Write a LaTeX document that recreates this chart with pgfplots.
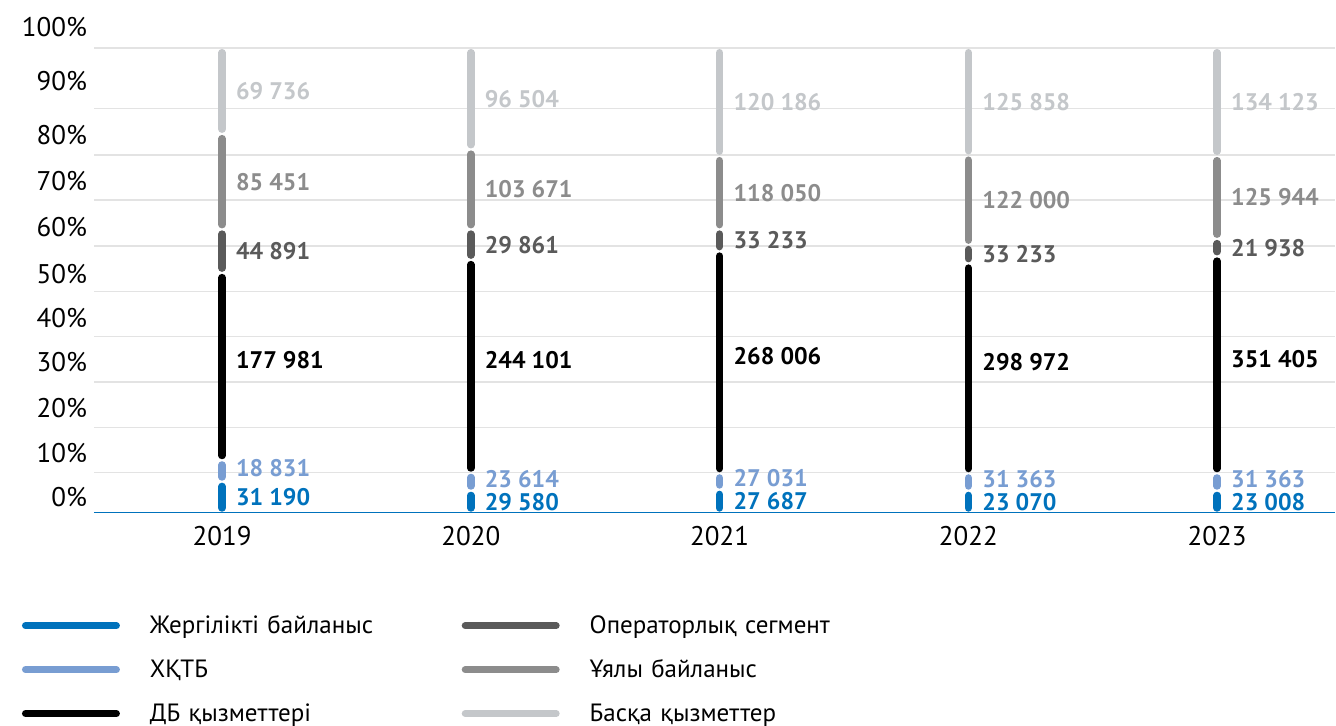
\documentclass[border=0pt]{standalone}
\usepackage{fontspec}
\setmainfont{PT Sans}
\usepackage{pgfplots}
\usepackage{pgfplotstable}
\pgfplotsset{compat=1.18}
\definecolor{cBlue}{RGB}{0,114,188}
\definecolor{cLBlue}{RGB}{120,157,210}
\definecolor{cBlack}{RGB}{0,0,0}
\definecolor{cOp}{RGB}{90,90,90}
\definecolor{cUa}{RGB}{140,140,140}
\definecolor{cBq}{RGB}{196,199,202}

% x = year index, lo/hi = segment bounds (share of bar, %), label = value
\pgfplotstableread[col sep=comma]{
x,lo,hi,label
0,0,6.67,31 190
1,0,4.73,29 580
2,0,4.95,27 687
3,0,4.73,23 070
4,0,4.73,23 008
}\tBlue
\pgfplotstableread[col sep=comma]{
x,lo,hi,label
0,6.67,11.29,18 831
1,4.73,8.60,23 614
2,4.95,8.49,27 031
3,4.73,8.49,31 363
4,4.73,8.49,31 363
}\tLBlue
\pgfplotstableread[col sep=comma]{
x,lo,hi,label
0,11.29,51.61,177 981
1,8.60,54.41,244 101
2,8.49,56.24,268 006
3,8.49,53.66,298 972
4,8.49,55.16,351 405
}\tBlack
\pgfplotstableread[col sep=comma]{
x,lo,hi,label
0,51.61,60.97,44 891
1,54.41,60.97,29 861
2,56.24,60.97,33 233
3,53.66,57.63,33 233
4,55.16,58.92,21 938
}\tOp
\pgfplotstableread[col sep=comma]{
x,lo,hi,label
0,60.97,81.51,85 451
1,60.97,78.17,103 671
2,60.97,76.77,118 050
3,57.63,76.88,122 000
4,58.92,76.77,125 944
}\tUa
\pgfplotstableread[col sep=comma]{
x,lo,hi,label
0,81.51,100,69 736
1,78.17,100,96 504
2,76.77,100,120 186
3,76.88,100,125 858
4,76.77,100,134 123
}\tBq

\pgfplotsset{
  seg/.style 2 args={draw=none, mark=none,
    error bars/y dir=both, error bars/y explicit, error bars/error mark=none,
    error bars/error bar style={draw=#1, line width=3.75pt, line cap=round, solid},
    nodes near coords, point meta=explicit symbolic,
    every node near coord/.append style={anchor=west, text=#1,
      font=\fontsize{12}{14}\selectfont\bfseries, xshift=3.5pt, #2},
    legend image code/.code={\path (0pt,0pt) -- (49pt,0pt);
      \draw[draw=#1, line width=3.5pt, line cap=round] (1.75pt,0pt) -- (47.25pt,0pt);},
  },
}

\begin{document}
\begin{tikzpicture}
\begin{axis}[
  scale only axis, width=621pt, height=247.6pt,
  xmin=-0.515, xmax=4.475, ymin=0, ymax=106.5,
  axis x line=bottom, axis y line=left,
  x axis line style={draw=cBlue, line width=0.75pt, -},
  y axis line style={draw=none},
  xtick={0,1,2,3,4}, xticklabels={2019,2020,2021,2022,2023},
  ytick={3.40,12.84,22.52,32.37,41.94,51.46,61.57,71.44,81.35,92.95,104.58},
  yticklabels={0\%,10\%,20\%,30\%,40\%,50\%,60\%,70\%,80\%,90\%,100\%},
  major tick length=0pt, tick style={draw=none},
  extra y ticks={8.67,18.35,28.10,37.91,47.59,57.42,67.31,76.99,87.03,100},
  extra y tick labels={,,,,,,,,,},
  extra y tick style={grid=major, major grid style={draw=gray!22, line width=0.75pt}},
  ticklabel style={font=\fontsize{13.5}{15}\selectfont},
  xticklabel style={yshift=-3.5pt},
  clip=false,
  legend columns=2,
  legend cell align=left,
  legend style={draw=none, fill=none, inner sep=0pt, outer sep=0pt,
    at={(axis description cs:0,0)}, anchor=north west, xshift=-36pt, yshift=-50.5pt,
    column sep=15pt, row sep=10pt,
    nodes={inner sep=0pt, text width=141pt, align=left, text height=10pt, text depth=2pt,
      font=\fontsize{12.5}{14}\selectfont}},
]
\addplot[seg={cBlue}{}] table[x=x, y expr={(\thisrow{lo}+\thisrow{hi})/2},
  y error expr={(\thisrow{hi}-\thisrow{lo})/2-1.02}, meta=label] {\tBlue};
\addlegendentry{Жергілікті байланыс}
\addplot[seg={cOp}{}] table[x=x, y expr={(\thisrow{lo}+\thisrow{hi})/2},
  y error expr={(\thisrow{hi}-\thisrow{lo})/2-1.02}, meta=label] {\tOp};
\addlegendentry{Операторлық сегмент}
\addplot[seg={cLBlue}{yshift=1.5pt}] table[x=x, y expr={(\thisrow{lo}+\thisrow{hi})/2},
  y error expr={(\thisrow{hi}-\thisrow{lo})/2-1.02}, meta=label] {\tLBlue};
\addlegendentry{ХҚТБ}
\addplot[seg={cUa}{}] table[x=x, y expr={(\thisrow{lo}+\thisrow{hi})/2},
  y error expr={(\thisrow{hi}-\thisrow{lo})/2-1.02}, meta=label] {\tUa};
\addlegendentry{Ұялы байланыс}
\addplot[seg={cBlack}{yshift=3pt}] table[x=x, y expr={(\thisrow{lo}+\thisrow{hi})/2},
  y error expr={(\thisrow{hi}-\thisrow{lo})/2-1.02}, meta=label] {\tBlack};
\addlegendentry{ДБ қызметтері}
\addplot[seg={cBq}{}] table[x=x, y expr={(\thisrow{lo}+\thisrow{hi})/2},
  y error expr={(\thisrow{hi}-\thisrow{lo})/2-1.02}, meta=label] {\tBq};
\addlegendentry{Басқа қызметтер}
\end{axis}
\path ([xshift=-47pt,yshift=-106.5pt]current axis.south west) rectangle ([yshift=8.9pt]current axis.north east);
\end{tikzpicture}
\end{document}
